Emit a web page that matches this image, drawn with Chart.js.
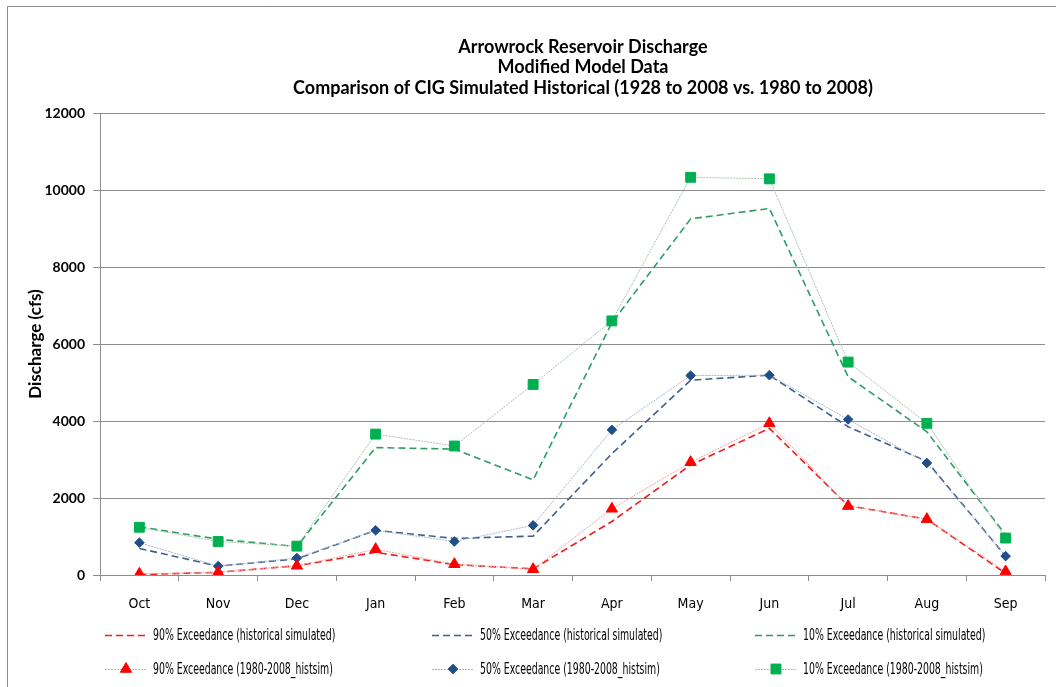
<!DOCTYPE html>
<html>
<head>
<meta charset="utf-8">
<script src="https://cdn.jsdelivr.net/npm/chart.js@4/dist/chart.umd.min.js"></script>
<style>
  html, body { margin: 0; padding: 0; background: #fff; }
  #wrap { width: 1056px; height: 687px; position: relative; }
</style>
</head>
<body>
<div id="wrap"><canvas id="chart" width="1056" height="687"></canvas></div>
<script>
// data
const months = ['Oct', 'Nov', 'Dec', 'Jan', 'Feb', 'Mar', 'Apr', 'May', 'Jun', 'Jul', 'Aug', 'Sep'];
const yTicks = [0, 2000, 4000, 6000, 8000, 10000, 12000];
const titleLines = ['Arrowrock Reservoir Discharge', 'Modified Model Data', 'Comparison of CIG Simulated Historical (1928 to 2008 vs. 1980 to 2008)'];

const hist90 = [10, 70, 240, 590, 270, 160, 1390, 2860, 3810, 1800, 1450, 40];
const hist50 = [690, 230, 420, 1160, 950, 1010, 3150, 5060, 5190, 3850, 2950, 490];
const hist10 = [1250, 930, 740, 3310, 3270, 2470, 6550, 9250, 9520, 5150, 3720, 1040];
const recent90 = [30, 70, 240, 670, 280, 150, 1720, 2930, 3940, 1790, 1450, 90];
const recent50 = [840, 230, 440, 1160, 870, 1290, 3770, 5180, 5190, 4040, 2910, 490];
const recent10 = [1240, 870, 750, 3660, 3350, 4950, 6600, 10330, 10290, 5530, 3940, 960];

const FONT = 'Lato, "Open Sans", sans-serif';
const NARROW = '"Liberation Sans Narrow", "DejaVu Sans Condensed", sans-serif';

function dashed(label, data, color) {
    return {
        label: label, data: data,
        borderColor: color, backgroundColor: color,
        borderWidth: 1.6, borderDash: [7, 4],
        pointRadius: 0, pointHoverRadius: 0,
        tension: 0, order: 2
    };
}
function marked(label, data, lineColor, markColor, style, radius) {
    return {
        label: label, data: data,
        borderColor: lineColor, backgroundColor: markColor,
        borderWidth: 1, borderDash: [2, 1],
        pointStyle: style, pointRadius: radius,
        pointBackgroundColor: markColor, pointBorderColor: markColor, pointBorderWidth: 1,
        tension: 0, order: 1
    };
}

const datasets = [
    dashed('90% Exceedance (historical simulated)', hist90, '#ee1c1c'),
    dashed('50% Exceedance (historical simulated)', hist50, '#3f5f8f'),
    dashed('10% Exceedance (historical simulated)', hist10, '#2f9c66'),
    marked('90% Exceedance (1980-2008_histsim)', recent90, '#f4a0a0', '#ff0000', 'triangle', 6.5),
    marked('50% Exceedance (1980-2008_histsim)', recent50, '#a9b6ca', '#1f4e89', 'rectRot', 4.8),
    marked('10% Exceedance (1980-2008_histsim)', recent10, '#a9c4a9', '#00b050', 'rect', 7)
];

// narrow text like the original: squeeze horizontally
function squeezed(ctx, text, x, y, sx) {
    ctx.save();
    ctx.translate(x, y);
    ctx.scale(sx, 1);
    ctx.fillText(text, 0, 0);
    ctx.restore();
}

// border, title and the three-column legend are drawn by hand
const decor = {
    id: 'decor',
    afterDraw(chart) {
        const ctx = chart.ctx;
        ctx.save();
        ctx.strokeStyle = '#8c8c8c';
        ctx.lineWidth = 1;
        ctx.beginPath();
        ctx.moveTo(7.5, 687);
        ctx.lineTo(7.5, 6.5);
        ctx.lineTo(1056, 6.5);
        ctx.stroke();

        ctx.fillStyle = '#000';
        ctx.font = 'bold 18px ' + FONT;
        ctx.textAlign = 'center';
        ctx.textBaseline = 'middle';
        titleLines.forEach((t, i) => ctx.fillText(t, 583, 47 + i * 20.5));

        const cols = [105, 432, 755];
        const rows = [635, 669];
        ctx.font = '16px ' + NARROW;
        ctx.textAlign = 'left';
        chart.data.datasets.forEach((ds, i) => {
            const x = cols[i % 3], y = rows[Math.floor(i / 3)];
            ctx.save();
            ctx.strokeStyle = ds.borderColor;
            ctx.lineWidth = ds.borderWidth;
            ctx.setLineDash(ds.borderDash);
            ctx.beginPath();
            ctx.moveTo(x, y + 0.5);
            ctx.lineTo(x + 42, y + 0.5);
            ctx.stroke();
            ctx.restore();
            if (ds.pointRadius > 0) {
                ctx.save();
                ctx.fillStyle = ds.pointBackgroundColor;
                ctx.strokeStyle = ds.pointBorderColor;
                ctx.lineWidth = 1;
                Chart.helpers.drawPoint(ctx, { pointStyle: ds.pointStyle, radius: ds.pointRadius, rotation: 0, borderWidth: 1 }, x + 21, y);
                ctx.restore();
            }
            ctx.fillStyle = '#000';
            squeezed(ctx, ds.label, x + 48, y + 1, 0.65);
        });
        ctx.restore();
    }
};

new Chart(document.getElementById('chart').getContext('2d'), {
    type: 'line',
    data: { labels: months, datasets: datasets },
    options: {
        responsive: false,
        animation: false,
        events: [],
        layout: { padding: { left: 0, top: 113, right: 11, bottom: 72 } },
        plugins: { legend: { display: false }, title: { display: false }, tooltip: { enabled: false } },
        scales: {
            x: {
                offset: true,
                grid: { display: true, drawOnChartArea: false, drawTicks: true, tickLength: 6, color: '#8c8c8c', offset: true },
                border: { color: '#8c8c8c' },
                ticks: { color: '#000', font: { family: NARROW, size: 14 }, padding: 15, maxRotation: 0, autoSkip: false },
                afterFit: s => { s.height = 40; }
            },
            y: {
                min: 0, max: 12000,
                afterBuildTicks: s => { s.ticks = yTicks.map(v => ({ value: v })); },
                grid: { color: '#8c8c8c', lineWidth: 1, tickLength: 7 },
                border: { color: '#8c8c8c' },
                ticks: { color: '#000', font: { family: FONT, size: 14, weight: 'bold' }, padding: 8, callback: v => String(v) },
                title: { display: true, text: 'Discharge (cfs)', color: '#000', font: { family: FONT, size: 17, weight: 'bold' }, padding: { top: 25, bottom: 4 } },
                afterFit: s => { s.width = 100; }
            }
        }
    },
    plugins: [decor]
});
</script>
</body>
</html>
